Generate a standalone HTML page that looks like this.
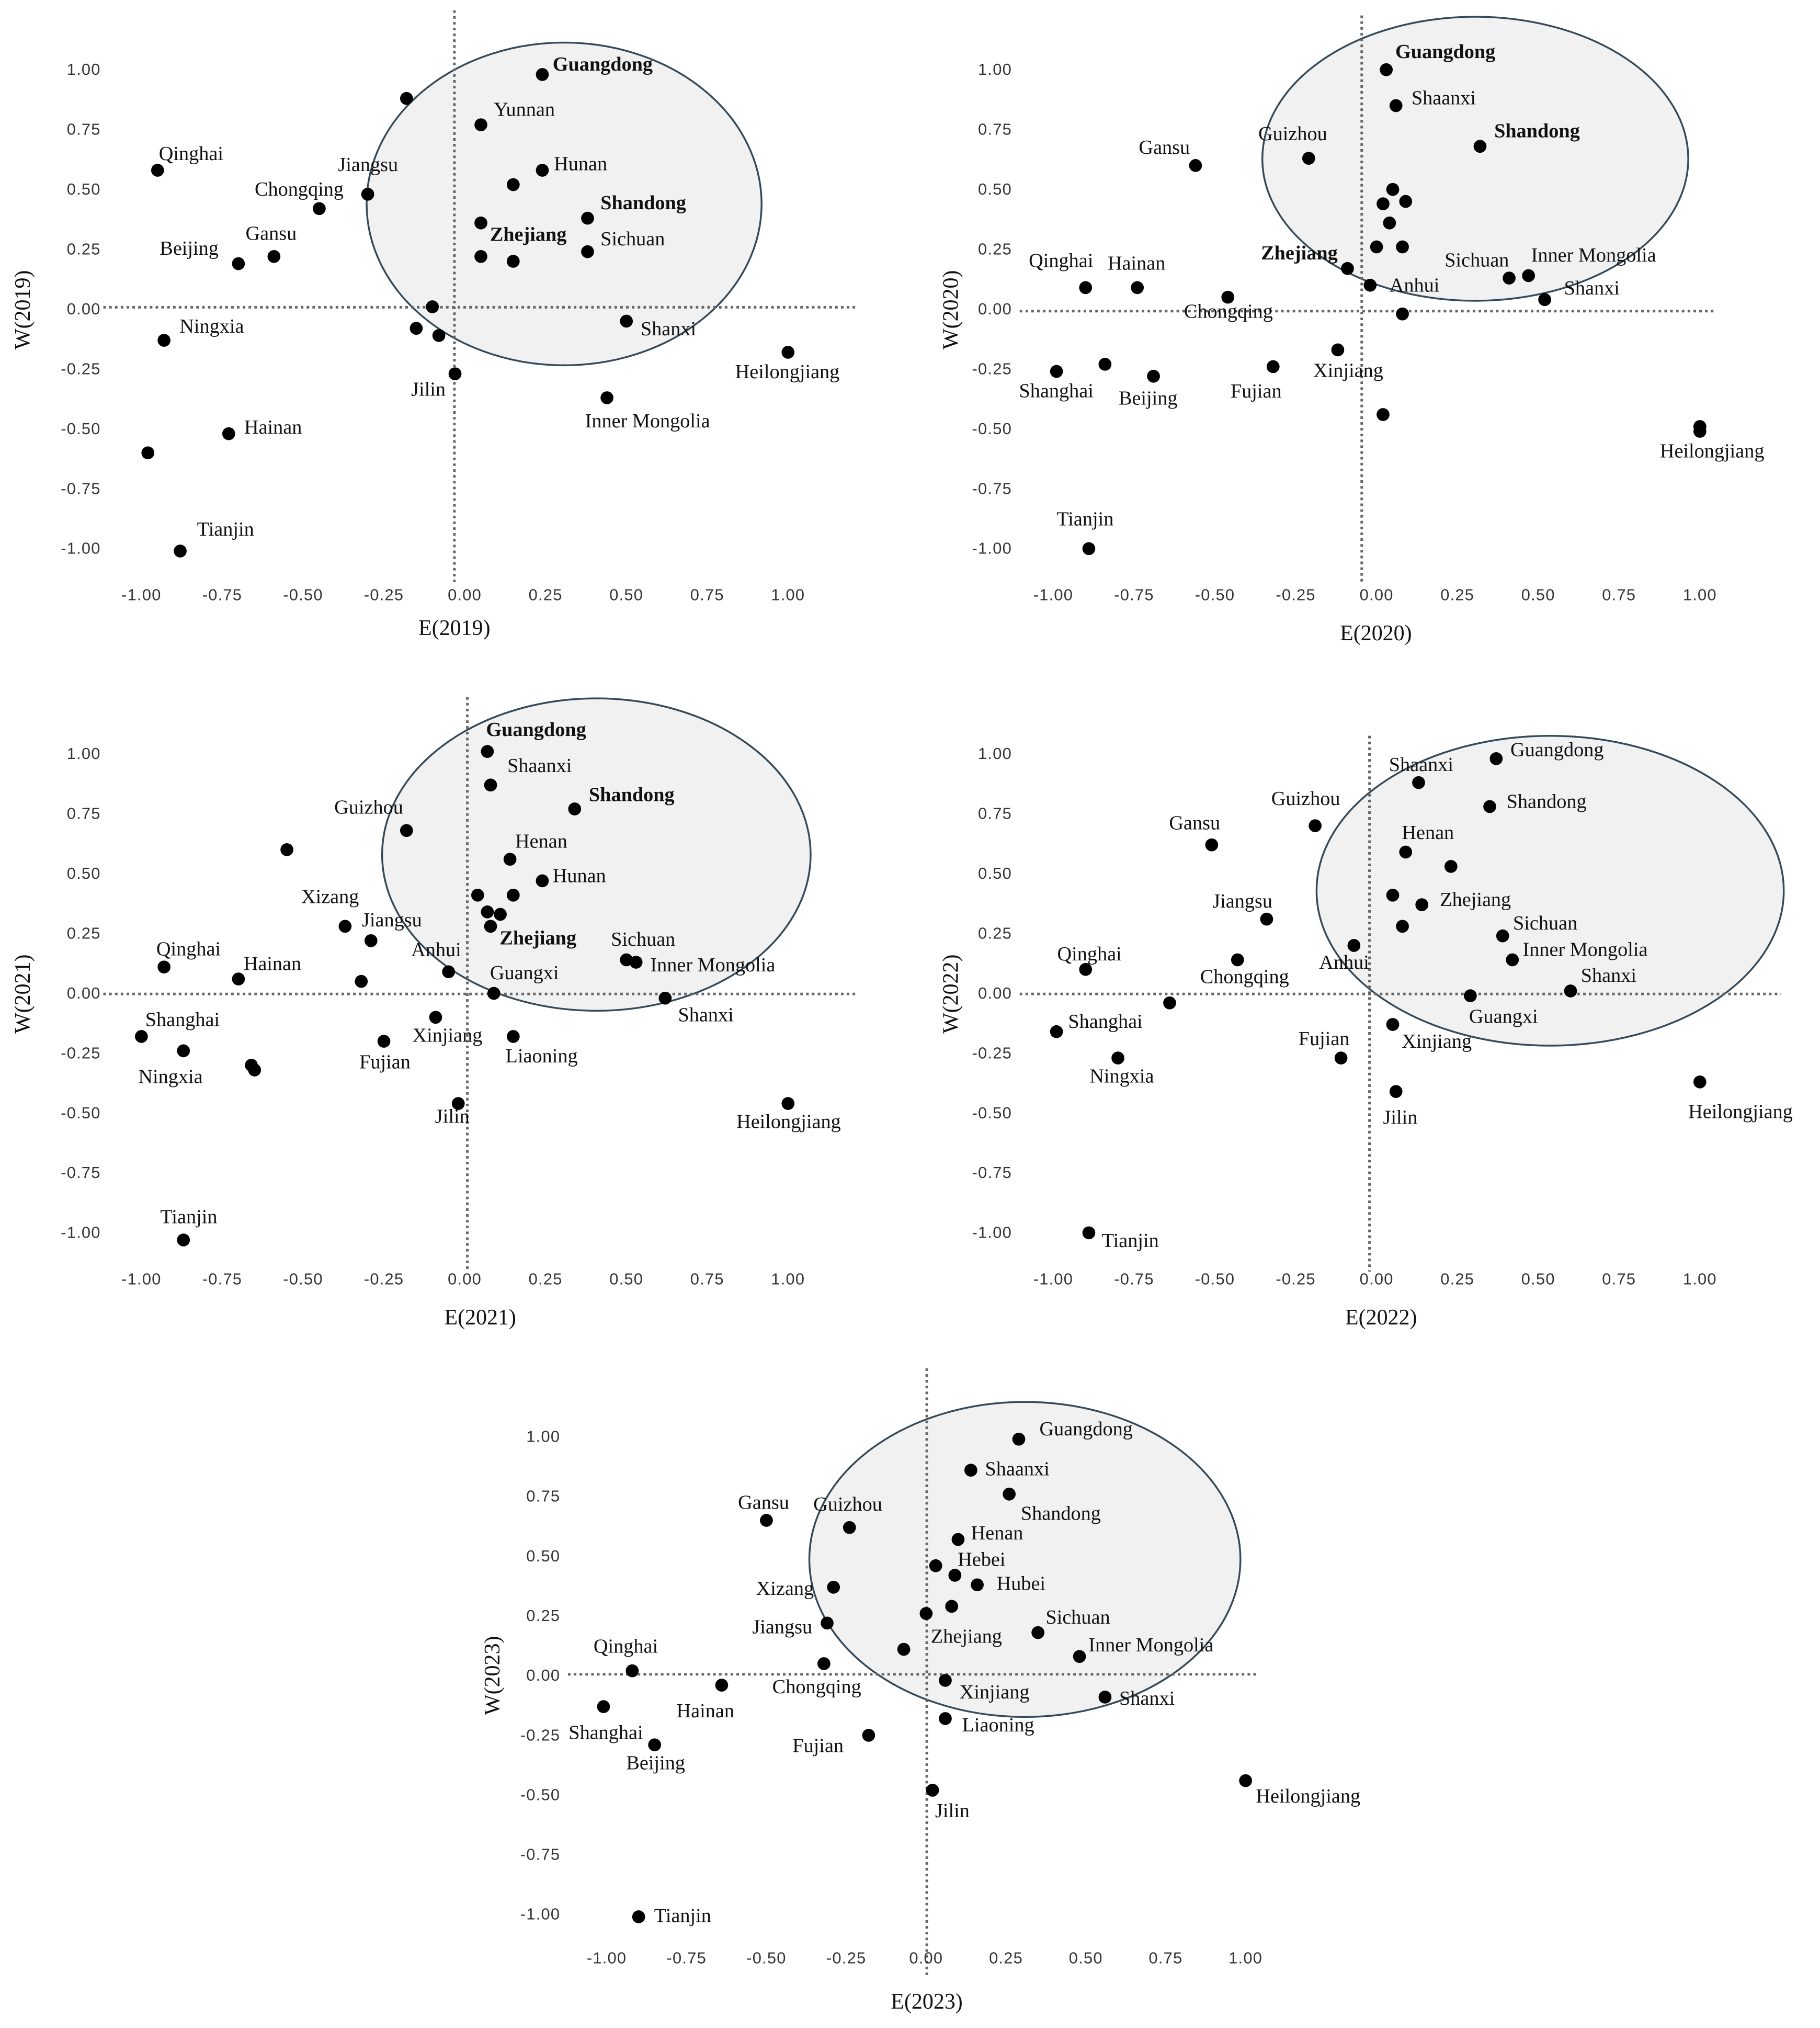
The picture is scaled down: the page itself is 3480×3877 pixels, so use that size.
<!DOCTYPE html>
<html><head><meta charset="utf-8"><style>
html,body{margin:0;padding:0;background:#fff;}
svg{display:block;}
.tick{font-family:"Liberation Sans",sans-serif;font-size:12.5px;fill:#333;letter-spacing:0.5px;}
.lbl{font-family:"Liberation Serif",serif;font-size:15.5px;fill:#111;}
.ttl{font-family:"Liberation Serif",serif;font-size:17px;fill:#111;}
</style></head><body>
<svg id="fig" width="3480" height="3877" viewBox="0 0 1410 1571" xmlns="http://www.w3.org/2000/svg">
<rect width="1410" height="1571" fill="#fff"/>
</svg>
<script>
// ---------- data (E, W values per year) ----------
const names2019 = ["Guangdong","","Yunnan","Qinghai","Hunan","Jiangsu","","Chongqing","Shandong","","Zhejiang","","Sichuan","Gansu","Beijing","","Ningxia","","","Shanxi","Heilongjiang","Jilin","Inner Mongolia","Hainan","","Tianjin"];
const e2019 = [0.24,-0.18,0.05,-0.95,0.24,-0.30,0.15,-0.45,0.38,0.05,0.05,0.15,0.38,-0.59,-0.70,-0.10,-0.93,-0.15,-0.08,0.50,1.00,-0.03,0.44,-0.73,-0.98,-0.88];
const w2019 = [0.98,0.88,0.77,0.58,0.58,0.48,0.52,0.42,0.38,0.36,0.22,0.20,0.24,0.22,0.19,0.01,-0.13,-0.08,-0.11,-0.05,-0.18,-0.27,-0.37,-0.52,-0.60,-1.01];
const bold2019 = ["Guangdong","Shandong","Zhejiang"];

const names2020 = ["Guangdong","Shaanxi","Shandong","Gansu","Guizhou","","","","","","","Zhejiang","Anhui","","Sichuan","Inner Mongolia","Shanxi","Qinghai","Hainan","Chongqing","Xinjiang","Shanghai","","Beijing","Fujian","","Heilongjiang","","Tianjin"];
const e2020 = [0.03,0.06,0.32,-0.56,-0.21,0.05,0.02,0.09,0.04,0.00,0.08,-0.09,-0.02,0.08,0.41,0.47,0.52,-0.90,-0.74,-0.46,-0.12,-0.99,-0.84,-0.69,-0.32,0.02,1.00,1.00,-0.89];
const w2020 = [1.00,0.85,0.68,0.60,0.63,0.50,0.44,0.45,0.36,0.26,0.26,0.17,0.10,-0.02,0.13,0.14,0.04,0.09,0.09,0.05,-0.17,-0.26,-0.23,-0.28,-0.24,-0.44,-0.49,-0.51,-1.00];
const bold2020 = ["Guangdong","Shandong","Zhejiang"];

const names2021 = ["Guangdong","Shaanxi","Shandong","Guizhou","","Henan","Hunan","","","","","Zhejiang","Xizang","Jiangsu","Anhui","Guangxi","Sichuan","Inner Mongolia","Shanxi","Qinghai","Hainan","","Shanghai","Ningxia","","","Xinjiang","Fujian","Liaoning","Jilin","Heilongjiang","Tianjin"];
const e2021 = [0.07,0.08,0.34,-0.18,-0.55,0.14,0.24,0.04,0.15,0.07,0.11,0.08,-0.37,-0.29,-0.05,0.09,0.50,0.53,0.62,-0.93,-0.70,-0.32,-1.00,-0.87,-0.66,-0.65,-0.09,-0.25,0.15,-0.02,1.00,-0.87];
const w2021 = [1.01,0.87,0.77,0.68,0.60,0.56,0.47,0.41,0.41,0.34,0.33,0.28,0.28,0.22,0.09,0.00,0.14,0.13,-0.02,0.11,0.06,0.05,-0.18,-0.24,-0.30,-0.32,-0.10,-0.20,-0.18,-0.46,-0.46,-1.03];
const bold2021 = ["Guangdong","Shandong","Zhejiang"];

const names2022 = ["Guangdong","Shaanxi","Shandong","Guizhou","Gansu","Henan","","","Zhejiang","Jiangsu","","Sichuan","Inner Mongolia","Anhui","Qinghai","Chongqing","Shanxi","Guangxi","","Shanghai","Xinjiang","Fujian","Ningxia","Jilin","Heilongjiang","Tianjin"];
const e2022 = [0.37,0.13,0.35,-0.19,-0.51,0.09,0.23,0.05,0.14,-0.34,0.08,0.39,0.42,-0.07,-0.90,-0.43,0.60,0.29,-0.64,-0.99,0.05,-0.11,-0.80,0.06,1.00,-0.89];
const w2022 = [0.98,0.88,0.78,0.70,0.62,0.59,0.53,0.41,0.37,0.31,0.28,0.24,0.14,0.20,0.10,0.14,0.01,-0.01,-0.04,-0.16,-0.13,-0.27,-0.27,-0.41,-0.37,-1.00];
const bold2022 = [];

const names2023 = ["Guangdong","Shaanxi","Shandong","Gansu","Guizhou","Henan","Hebei","","Hubei","Xizang","","","Jiangsu","Zhejiang","Sichuan","Inner Mongolia","Chongqing","Qinghai","Hainan","Shanghai","Beijing","Xinjiang","Shanxi","Liaoning","Fujian","Jilin","Heilongjiang","Tianjin"];
const e2023 = [0.29,0.14,0.26,-0.50,-0.24,0.10,0.03,0.09,0.16,-0.29,0.08,0.00,-0.31,-0.07,0.35,0.48,-0.32,-0.92,-0.64,-1.01,-0.85,0.06,0.56,0.06,-0.18,0.02,1.00,-0.90];
const w2023 = [0.99,0.86,0.76,0.65,0.62,0.57,0.46,0.42,0.38,0.37,0.29,0.26,0.22,0.11,0.18,0.08,0.05,0.02,-0.04,-0.13,-0.29,-0.02,-0.09,-0.18,-0.25,-0.48,-0.44,-1.01];
const bold2023 = [];

const xTicks = [-1.00,-0.75,-0.50,-0.25,0.00,0.25,0.50,0.75,1.00];
const yTicks = [1.00,0.75,0.50,0.25,0.00,-0.25,-0.50,-0.75,-1.00];

// ---------- label offsets (px, layout only) ----------
const off2019 = [[8,-8],[0,0],[10,-12],[1,-13],[9,-5],[-23,-23],[0,0],[-50,-15],[10,-12],[0,0],[7,-17],[0,0],[10,-10],[-22,-18],[-61,-12],[0,0],[12,-11],[0,0],[0,0],[11,6],[-41,15],[-34,12],[-17,18],[12,-5],[0,0],[13,-17]];
const off2020 = [[7,-14],[12,-6],[11,-12],[-44,-14],[-39,-19],[0,0],[0,0],[0,0],[0,0],[0,0],[0,0],[-67,-12],[15,0],[0,0],[-50,-14],[2,-16],[15,-9],[-44,-21],[-23,-19],[-34,11],[-19,16],[-29,15],[0,0],[-27,17],[-33,19],[0,0],[-31,19],[0,0],[-25,-23]];
const off2021 = [[-1,-17],[13,-15],[11,-11],[-56,-18],[0,0],[4,-14],[8,-4],[0,0],[0,0],[0,0],[0,0],[7,9],[-34,-23],[-7,-16],[-29,-17],[-3,-16],[-12,-16],[11,2],[10,13],[-6,-14],[4,-12],[0,0],[3,-13],[-35,20],[0,0],[0,0],[-18,14],[-19,16],[-6,15],[-18,10],[-40,14],[-18,-18]];
const off2022 = [[11,-7],[-23,-14],[13,-4],[-34,-21],[-33,-17],[-3,-15],[0,0],[0,0],[14,-4],[-42,-14],[0,0],[8,-10],[8,-8],[-27,13],[-22,-12],[-29,13],[8,-12],[-1,16],[0,0],[9,-8],[7,13],[-33,-15],[-22,14],[-10,20],[-9,23],[10,6]];
const off2023 = [[16,-8],[11,-1],[9,15],[-22,-14],[-28,-18],[10,-5],[17,-5],[0,0],[15,-1],[-60,1],[0,0],[0,0],[-58,3],[21,-10],[6,-12],[7,-9],[-40,18],[-30,-19],[-35,20],[-27,20],[-22,14],[11,9],[11,1],[13,5],[-59,8],[2,16],[8,12],[12,-1]];

const NS = "http://www.w3.org/2000/svg";
const fig = document.getElementById('fig');
function mk(tag, attrs, parent){
  const el = document.createElementNS(NS, tag);
  for (const k in attrs) el.setAttribute(k, attrs[k]);
  (parent||fig).appendChild(el);
  return el;
}

function panel(cfg, names, ex, wy, bolds, offs){
  const g = mk('g', {});
  
  
  const X = v => cfg.x0 + v * cfg.xs;
  const Y = v => cfg.y0 - v * cfg.ys;
  // ellipse
  const el = mk('ellipse', {cx:cfg.ell[0], cy:cfg.ell[1], rx:cfg.ell[2], ry:cfg.ell[3], fill:'#f1f1f1', stroke:'#34495a', 'stroke-width':1.4}, g);
  
  
  // dotted axes
  const vl = mk('line', {x1:cfg.vx, x2:cfg.vx, y1:cfg.vy[0], y2:cfg.vy[1], stroke:'#666', 'stroke-width':2, 'stroke-dasharray':'2 2.5'}, g);
  
  
  const hl = mk('line', {x1:cfg.hx[0], x2:cfg.hx[1], y1:cfg.hy, y2:cfg.hy, stroke:'#666', 'stroke-width':2, 'stroke-dasharray':'2 2.5'}, g);
  
  
  // ticks
  xTicks.forEach(t => {
    const tx = mk('text', {x:X(t), y:cfg.xty, 'text-anchor':'middle', class:'tick'}, g);
    tx.textContent = t.toFixed(2);
    
    
  });
  yTicks.forEach(t => {
    const ty = mk('text', {x:cfg.ytx, y:Y(t)+4, 'text-anchor':'end', class:'tick'}, g);
    ty.textContent = t.toFixed(2);
    
    
  });
  // axis titles
  const xt = mk('text', {x:cfg.xt[0], y:cfg.xt[1], 'text-anchor':'middle', class:'ttl'}, g);
  xt.textContent = 'E(' + cfg.year + ')';
  
  
  const yt = mk('text', {x:0, y:0, 'text-anchor':'middle', class:'ttl', transform:'translate(' + cfg.yt[0] + ',' + cfg.yt[1] + ') rotate(-90)'}, g);
  yt.textContent = 'W(' + cfg.year + ')';
  
  
  // points
  names.forEach((n, i) => {
    const px = X(ex[i]), py = Y(wy[i]);
    const c = mk('circle', {cx:px, cy:py, r:5, fill:'#000'}, g);
    
    
    if (n) {
      const t = mk('text', {x:px + offs[i][0], y:py + offs[i][1] + 5, class:'lbl'}, g);
      if (bolds.indexOf(n) >= 0) t.setAttribute('font-weight', 'bold');
      t.textContent = n;
      
      
    }
  });
}

panel({year:2019, x0:360, xs:250.5, y0:239.5, ys:185.5, ell:[437,158,153,125], vx:352, vy:[8,452], hx:[80,665], hy:238, xty:465, ytx:78, xt:[352,492], yt:[23,240]}, names2019, e2019, w2019, bold2019, off2019);
panel({year:2020, x0:1066.5, xs:250.5, y0:239.5, ys:185.5, ell:[1143,123,165,110], vx:1055, vy:[12,452], hx:[790,1330], hy:241, xty:465, ytx:784, xt:[1066,496], yt:[742,240]}, names2020, e2020, w2020, bold2020, off2020);
panel({year:2021, x0:360, xs:250.5, y0:769.5, ys:185.5, ell:[462,662,166,121], vx:362, vy:[540,985], hx:[80,665], hy:770, xty:995, ytx:78, xt:[372,1026], yt:[23,770]}, names2021, e2021, w2021, bold2021, off2021);
panel({year:2022, x0:1066.5, xs:250.5, y0:769.5, ys:185.5, ell:[1201,690,181,120], vx:1061, vy:[570,985], hx:[790,1380], hy:770, xty:995, ytx:784, xt:[1070,1026], yt:[742,770]}, names2022, e2022, w2022, bold2022, off2022);
panel({year:2023, x0:717.5, xs:247.5, y0:1298, ys:185, ell:[794,1208,167,122], vx:718, vy:[1060,1530], hx:[440,975], hy:1297, xty:1521, ytx:434, xt:[718,1556], yt:[387,1298]}, names2023, e2023, w2023, bold2023, off2023);
</script>
</body></html>
